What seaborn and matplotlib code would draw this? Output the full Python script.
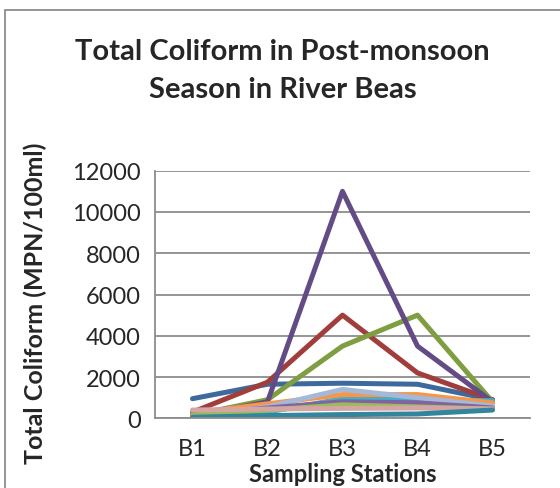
import pandas as pd
import matplotlib
matplotlib.use("Agg")
import matplotlib.pyplot as plt
from matplotlib.patches import Rectangle
import seaborn as sns

# Data (MPN/100ml)
stations = ["B1", "B2", "B3", "B4", "B5"]
s1 = [950, 1650, 1700, 1650, 900]
s2 = [300, 1750, 5000, 2200, 900]
s3 = [150, 900, 3500, 5000, 800]
s4 = [100, 800, 11000, 3500, 800]
s5 = [100, 300, 950, 900, 850]
s6 = [250, 700, 1150, 1150, 750]
s7 = [100, 550, 1400, 1000, 600]
s8 = [200, 500, 800, 750, 500]
s9 = [150, 400, 650, 550, 450]
s10 = [400, 450, 480, 500, 450]
s11 = [50, 130, 180, 210, 400]

series = [s1, s2, s3, s4, s5, s6, s7, s8, s9, s10, s11]
colors = ["#3D6A9C", "#A13E3B", "#7F9E41", "#634B85", "#4BACC6", "#F79646",
          "#A5B8D8", "#8064A2", "#9BBB59", "#D5A5A3", "#31859C"]

rows = []
for i, vals in enumerate(series):
    for st, v in zip(stations, vals):
        rows.append({"station": st, "value": v, "series": f"S{i + 1}"})
df = pd.DataFrame(rows)

sns.set_style("white")
plt.rcParams["font.family"] = ["Lato", "DejaVu Sans"]

fig = plt.figure(figsize=(5.6, 4.89), dpi=100)
ax = fig.add_axes([155 / 560, 1 - 419.3 / 489, 375 / 560, (419.3 - 171.7) / 489])

sns.lineplot(data=df, x="station", y="value", hue="series",
             palette=colors, linewidth=3.6, legend=False, ax=ax,
             solid_capstyle="round", solid_joinstyle="round")

grid_c = "#8C8C8C"
ax.set_xlim(-0.5, 4.5)
ax.set_ylim(0, 12000)
ax.set_yticks(range(0, 12001, 2000))
ax.yaxis.grid(True, color=grid_c, linewidth=1.3)
ax.set_axisbelow(True)
for side in ["top", "right"]:
    ax.spines[side].set_visible(False)
for side in ["left", "bottom"]:
    ax.spines[side].set_color(grid_c)
    ax.spines[side].set_linewidth(1.3)
ax.tick_params(axis="y", length=7, width=1.3, color=grid_c, labelsize=17, pad=3)
ax.tick_params(axis="x", length=0, labelsize=17, pad=14)

ax.set_xlabel("Sampling Stations", fontsize=17, fontweight="bold")
ax.xaxis.set_label_coords(0.5, -0.175)
ax.set_ylabel("Total Coliform (MPN/100ml)", fontsize=18, fontweight="bold")
ax.yaxis.set_label_coords(-108 / 375, 0.47)

fig.text(0.505, 1 - 71 / 489, "Total Coliform in Post-monsoon\nSeason in River Beas",
         ha="center", va="center", fontsize=21, fontweight="bold", linespacing=1.6)

# outer chart frame
fig.patches.append(Rectangle((5 / 560, -0.1), 1.2, 1 - 11 / 489 + 0.1,
                             transform=fig.transFigure, fill=False,
                             edgecolor="#8C8C8C", linewidth=1.3))

fig.savefig("out.png", dpi=100)
